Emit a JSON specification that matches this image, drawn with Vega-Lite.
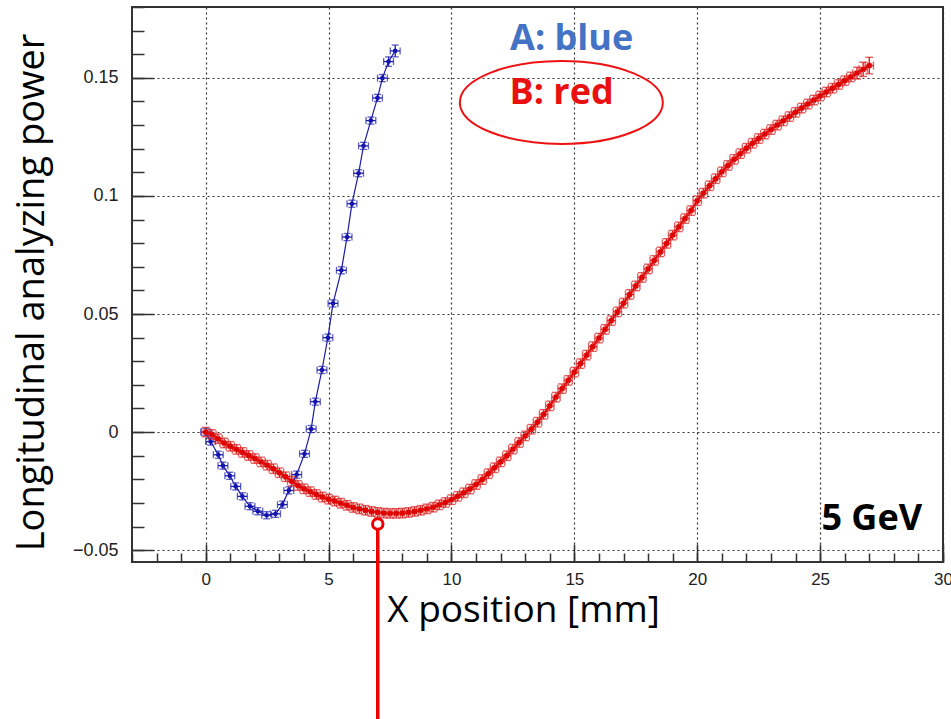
{
  "$schema": "https://vega.github.io/schema/vega-lite/v6.json",
  "width": 811,
  "height": 555,
  "autosize": "none",
  "padding": {"left": 132, "top": 7, "right": 8, "bottom": 157},
  "background": "white",
  "config": {"view": {"stroke": "#333", "strokeWidth": 2}, "font": "Liberation Sans"},
  "datasets": {
    "A": [
      {"x": 0, "y": 0, "ex": 0.2, "ey": 0.0015},
      {"x": 0.2, "y": -0.004, "ex": 0.2, "ey": 0.0015},
      {"x": 0.51, "y": -0.0096, "ex": 0.2, "ey": 0.0015},
      {"x": 0.7, "y": -0.0142, "ex": 0.2, "ey": 0.0015},
      {"x": 0.98, "y": -0.0185, "ex": 0.2, "ey": 0.0015},
      {"x": 1.22, "y": -0.023, "ex": 0.2, "ey": 0.0015},
      {"x": 1.49, "y": -0.0272, "ex": 0.2, "ey": 0.0015},
      {"x": 1.8, "y": -0.0314, "ex": 0.2, "ey": 0.0015},
      {"x": 2.12, "y": -0.0335, "ex": 0.2, "ey": 0.0015},
      {"x": 2.48, "y": -0.0352, "ex": 0.2, "ey": 0.0015},
      {"x": 2.84, "y": -0.0346, "ex": 0.2, "ey": 0.0015},
      {"x": 3.12, "y": -0.0307, "ex": 0.2, "ey": 0.0015},
      {"x": 3.38, "y": -0.0247, "ex": 0.2, "ey": 0.0015},
      {"x": 3.7, "y": -0.018, "ex": 0.2, "ey": 0.0015},
      {"x": 4.02, "y": -0.0092, "ex": 0.2, "ey": 0.0015},
      {"x": 4.29, "y": 0.0013, "ex": 0.2, "ey": 0.0015},
      {"x": 4.46, "y": 0.0129, "ex": 0.2, "ey": 0.0015},
      {"x": 4.73, "y": 0.0263, "ex": 0.2, "ey": 0.0015},
      {"x": 4.97, "y": 0.04, "ex": 0.2, "ey": 0.0015},
      {"x": 5.18, "y": 0.0545, "ex": 0.2, "ey": 0.0015},
      {"x": 5.52, "y": 0.0685, "ex": 0.2, "ey": 0.0015},
      {"x": 5.75, "y": 0.0826, "ex": 0.2, "ey": 0.0015},
      {"x": 5.95, "y": 0.0967, "ex": 0.2, "ey": 0.0015},
      {"x": 6.22, "y": 0.1096, "ex": 0.2, "ey": 0.0015},
      {"x": 6.42, "y": 0.1212, "ex": 0.2, "ey": 0.0015},
      {"x": 6.72, "y": 0.1319, "ex": 0.2, "ey": 0.0015},
      {"x": 6.99, "y": 0.1415, "ex": 0.2, "ey": 0.0015},
      {"x": 7.19, "y": 0.1499, "ex": 0.2, "ey": 0.0015},
      {"x": 7.44, "y": 0.1569, "ex": 0.2, "ey": 0.002},
      {"x": 7.71, "y": 0.1614, "ex": 0.2, "ey": 0.0025}
    ],
    "B": [
      {"x": 0.0, "y": 0.0, "ex": 0.17, "ey": 0.002}, {"x": 0.25, "y": -0.001, "ex": 0.17, "ey": 0.002}, {"x": 0.5, "y": -0.0028, "ex": 0.17, "ey": 0.002}, {"x": 0.75, "y": -0.0046, "ex": 0.17, "ey": 0.002},
      {"x": 1.0, "y": -0.006, "ex": 0.17, "ey": 0.002}, {"x": 1.25, "y": -0.0073, "ex": 0.17, "ey": 0.002}, {"x": 1.5, "y": -0.0086, "ex": 0.17, "ey": 0.002}, {"x": 1.75, "y": -0.0099, "ex": 0.17, "ey": 0.002},
      {"x": 2.0, "y": -0.0112, "ex": 0.17, "ey": 0.002}, {"x": 2.25, "y": -0.0126, "ex": 0.17, "ey": 0.002}, {"x": 2.5, "y": -0.014, "ex": 0.17, "ey": 0.002}, {"x": 2.75, "y": -0.0155, "ex": 0.17, "ey": 0.002},
      {"x": 3.0, "y": -0.0172, "ex": 0.17, "ey": 0.002}, {"x": 3.25, "y": -0.0189, "ex": 0.17, "ey": 0.002}, {"x": 3.5, "y": -0.0208, "ex": 0.17, "ey": 0.002}, {"x": 3.75, "y": -0.0226, "ex": 0.17, "ey": 0.002},
      {"x": 4.0, "y": -0.024, "ex": 0.17, "ey": 0.002}, {"x": 4.25, "y": -0.0252, "ex": 0.17, "ey": 0.002}, {"x": 4.5, "y": -0.0264, "ex": 0.17, "ey": 0.002}, {"x": 4.75, "y": -0.0275, "ex": 0.17, "ey": 0.002},
      {"x": 5.0, "y": -0.0284, "ex": 0.17, "ey": 0.002}, {"x": 5.25, "y": -0.0292, "ex": 0.17, "ey": 0.002}, {"x": 5.5, "y": -0.0301, "ex": 0.17, "ey": 0.002}, {"x": 5.75, "y": -0.031, "ex": 0.17, "ey": 0.002},
      {"x": 6.0, "y": -0.0319, "ex": 0.17, "ey": 0.002}, {"x": 6.25, "y": -0.0325, "ex": 0.17, "ey": 0.002}, {"x": 6.5, "y": -0.0331, "ex": 0.17, "ey": 0.002}, {"x": 6.75, "y": -0.0336, "ex": 0.17, "ey": 0.002},
      {"x": 7.0, "y": -0.034, "ex": 0.17, "ey": 0.002}, {"x": 7.25, "y": -0.0343, "ex": 0.17, "ey": 0.002}, {"x": 7.5, "y": -0.0344, "ex": 0.17, "ey": 0.002}, {"x": 7.75, "y": -0.0344, "ex": 0.17, "ey": 0.002},
      {"x": 8.0, "y": -0.0343, "ex": 0.17, "ey": 0.002}, {"x": 8.25, "y": -0.034, "ex": 0.17, "ey": 0.002}, {"x": 8.5, "y": -0.0336, "ex": 0.17, "ey": 0.002}, {"x": 8.75, "y": -0.0331, "ex": 0.17, "ey": 0.002},
      {"x": 9.0, "y": -0.0325, "ex": 0.17, "ey": 0.002}, {"x": 9.25, "y": -0.0318, "ex": 0.17, "ey": 0.002}, {"x": 9.5, "y": -0.0308, "ex": 0.17, "ey": 0.002}, {"x": 9.75, "y": -0.0298, "ex": 0.17, "ey": 0.002},
      {"x": 10.0, "y": -0.0286, "ex": 0.17, "ey": 0.002}, {"x": 10.25, "y": -0.0272, "ex": 0.17, "ey": 0.002}, {"x": 10.5, "y": -0.0257, "ex": 0.17, "ey": 0.002}, {"x": 10.75, "y": -0.0241, "ex": 0.17, "ey": 0.002},
      {"x": 11.0, "y": -0.0222, "ex": 0.17, "ey": 0.002}, {"x": 11.25, "y": -0.0201, "ex": 0.17, "ey": 0.002}, {"x": 11.5, "y": -0.0176, "ex": 0.17, "ey": 0.002}, {"x": 11.75, "y": -0.0151, "ex": 0.17, "ey": 0.002},
      {"x": 12.0, "y": -0.0126, "ex": 0.17, "ey": 0.002}, {"x": 12.25, "y": -0.01, "ex": 0.17, "ey": 0.002}, {"x": 12.5, "y": -0.0072, "ex": 0.17, "ey": 0.002}, {"x": 12.75, "y": -0.0044, "ex": 0.17, "ey": 0.002},
      {"x": 13.0, "y": -0.0016, "ex": 0.17, "ey": 0.002}, {"x": 13.25, "y": 0.0012, "ex": 0.17, "ey": 0.002}, {"x": 13.5, "y": 0.0042, "ex": 0.17, "ey": 0.002}, {"x": 13.75, "y": 0.0075, "ex": 0.17, "ey": 0.002},
      {"x": 14.0, "y": 0.0111, "ex": 0.17, "ey": 0.002}, {"x": 14.25, "y": 0.0148, "ex": 0.17, "ey": 0.002}, {"x": 14.5, "y": 0.0184, "ex": 0.17, "ey": 0.002}, {"x": 14.75, "y": 0.0219, "ex": 0.17, "ey": 0.002},
      {"x": 15.0, "y": 0.0254, "ex": 0.17, "ey": 0.002}, {"x": 15.25, "y": 0.029, "ex": 0.17, "ey": 0.002}, {"x": 15.5, "y": 0.0326, "ex": 0.17, "ey": 0.002}, {"x": 15.75, "y": 0.0362, "ex": 0.17, "ey": 0.002},
      {"x": 16.0, "y": 0.0398, "ex": 0.17, "ey": 0.002}, {"x": 16.25, "y": 0.0435, "ex": 0.17, "ey": 0.002}, {"x": 16.5, "y": 0.0472, "ex": 0.17, "ey": 0.002}, {"x": 16.75, "y": 0.0509, "ex": 0.17, "ey": 0.002},
      {"x": 17.0, "y": 0.0546, "ex": 0.17, "ey": 0.002}, {"x": 17.25, "y": 0.0583, "ex": 0.17, "ey": 0.002}, {"x": 17.5, "y": 0.0619, "ex": 0.17, "ey": 0.002}, {"x": 17.75, "y": 0.0655, "ex": 0.17, "ey": 0.002},
      {"x": 18.0, "y": 0.0691, "ex": 0.17, "ey": 0.002}, {"x": 18.25, "y": 0.0727, "ex": 0.17, "ey": 0.002}, {"x": 18.5, "y": 0.0763, "ex": 0.17, "ey": 0.002}, {"x": 18.75, "y": 0.0799, "ex": 0.17, "ey": 0.002},
      {"x": 19.0, "y": 0.0834, "ex": 0.17, "ey": 0.002}, {"x": 19.25, "y": 0.0869, "ex": 0.17, "ey": 0.002}, {"x": 19.5, "y": 0.0904, "ex": 0.17, "ey": 0.002}, {"x": 19.75, "y": 0.0938, "ex": 0.17, "ey": 0.002},
      {"x": 20.0, "y": 0.098, "ex": 0.17, "ey": 0.002}, {"x": 20.25, "y": 0.1012, "ex": 0.17, "ey": 0.002}, {"x": 20.5, "y": 0.1043, "ex": 0.17, "ey": 0.002}, {"x": 20.75, "y": 0.1073, "ex": 0.17, "ey": 0.002},
      {"x": 21.0, "y": 0.1102, "ex": 0.17, "ey": 0.002}, {"x": 21.25, "y": 0.1129, "ex": 0.17, "ey": 0.002}, {"x": 21.5, "y": 0.1155, "ex": 0.17, "ey": 0.002}, {"x": 21.75, "y": 0.1179, "ex": 0.17, "ey": 0.002},
      {"x": 22.0, "y": 0.1202, "ex": 0.17, "ey": 0.002}, {"x": 22.25, "y": 0.1223, "ex": 0.17, "ey": 0.002}, {"x": 22.5, "y": 0.1243, "ex": 0.17, "ey": 0.002}, {"x": 22.75, "y": 0.1262, "ex": 0.17, "ey": 0.002},
      {"x": 23.0, "y": 0.1281, "ex": 0.17, "ey": 0.002}, {"x": 23.25, "y": 0.13, "ex": 0.17, "ey": 0.002}, {"x": 23.5, "y": 0.1318, "ex": 0.17, "ey": 0.002}, {"x": 23.75, "y": 0.1336, "ex": 0.17, "ey": 0.002},
      {"x": 24.0, "y": 0.1354, "ex": 0.17, "ey": 0.002}, {"x": 24.25, "y": 0.1372, "ex": 0.17, "ey": 0.002}, {"x": 24.5, "y": 0.1389, "ex": 0.17, "ey": 0.002}, {"x": 24.75, "y": 0.1406, "ex": 0.17, "ey": 0.002},
      {"x": 25.0, "y": 0.1423, "ex": 0.17, "ey": 0.002}, {"x": 25.25, "y": 0.144, "ex": 0.17, "ey": 0.002}, {"x": 25.5, "y": 0.1456, "ex": 0.17, "ey": 0.002}, {"x": 25.75, "y": 0.1472, "ex": 0.17, "ey": 0.002},
      {"x": 26.0, "y": 0.1488, "ex": 0.17, "ey": 0.002}, {"x": 26.25, "y": 0.1504, "ex": 0.17, "ey": 0.002}, {"x": 26.5, "y": 0.152, "ex": 0.17, "ey": 0.0025}, {"x": 26.75, "y": 0.1536, "ex": 0.17, "ey": 0.003},
      {"x": 27.0, "y": 0.1552, "ex": 0.17, "ey": 0.0035}
    ],
    "labelA": [{"x": 14.89, "y": 0.1665, "label": "A: blue"}],
    "labelB": [{"x": 14.48, "y": 0.1437, "label": "B: red"}],
    "ellipse": [{"x": 14.47, "y": 0.1396}],
    "energy": [{"x": 27.1, "y": -0.037, "label": "5 GeV"}],
    "pin": [{"x": 7.0, "y": -0.0389, "yEnd": -0.13}]
  },
  "layer": [
    {
      "data": {"name": "A"},
      "mark": {"type": "point", "opacity": 0},
      "encoding": {
        "x": {
          "field": "x", "type": "quantitative",
          "scale": {"domain": [-3, 30], "nice": false, "zero": false},
          "axis": {
            "orient": "bottom", "values": [0, 5, 10, 15, 20, 25, 30],
            "grid": true, "gridDash": [2, 3], "gridColor": "#333", "gridOpacity": 1, "gridWidth": 1.2,
            "domain": false, "tickSize": -18, "tickColor": "#333", "tickWidth": 1.5,
            "labelPadding": 27, "labelFontSize": 17, "labelColor": "#222", "labelFont": "Liberation Sans",
            "labelFlush": false, "labelOverlap": false,
            "title": "X position [mm]", "titleFont": "Open Sans", "titleFontSize": 37,
            "titleFontWeight": "normal", "titleColor": "#000",
            "titleX": 391, "titleY": 59, "titleBaseline": "alphabetic", "titleAlign": "center"
          }
        },
        "y": {
          "field": "y", "type": "quantitative",
          "scale": {"domain": [-0.055, 0.18], "nice": false, "zero": false},
          "axis": {
            "orient": "left", "values": [-0.05, 0, 0.05, 0.1, 0.15], "format": "~g",
            "grid": true, "gridDash": [2, 3], "gridColor": "#333", "gridOpacity": 1, "gridWidth": 1.2,
            "domain": false, "tickSize": -22, "tickColor": "#333", "tickWidth": 1.5,
            "labelPadding": 36, "labelFontSize": 18, "labelColor": "#222", "labelFont": "Liberation Sans",
            "labelOverlap": false, "labelFlush": false,
            "title": "Longitudinal analyzing power", "titleFont": "Open Sans", "titleFontSize": 38,
            "titleFontWeight": "normal", "titleColor": "#000", "titleAngle": 270,
            "titleX": -89, "titleY": 285, "titleBaseline": "alphabetic", "titleAlign": "center"
          }
        }
      }
    },
    {
      "data": {"name": "A"},
      "mark": {"type": "point", "opacity": 0},
      "encoding": {
        "x": {
          "field": "x", "type": "quantitative",
          "axis": {
            "orient": "bottom", "values": [-3, -2, -1, 0, 1, 2, 3, 4, 5, 6, 7, 8, 9, 10, 11, 12, 13, 14, 15, 16, 17, 18, 19, 20, 21, 22, 23, 24, 25, 26, 27, 28, 29, 30],
            "labels": false, "grid": false, "domain": false, "tickSize": -9, "tickColor": "#333", "tickWidth": 1.5, "title": null
          }
        },
        "y": {
          "field": "y", "type": "quantitative",
          "axis": {
            "orient": "left", "values": [-0.05, -0.04, -0.03, -0.02, -0.01, 0, 0.01, 0.02, 0.03, 0.04, 0.05, 0.06, 0.07, 0.08, 0.09, 0.1, 0.11, 0.12, 0.13, 0.14, 0.15, 0.16, 0.17, 0.18],
            "labels": false, "grid": false, "domain": false, "tickSize": -12, "tickColor": "#333", "tickWidth": 1.5, "title": null
          }
        }
      }
    },
    {
      "data": {"name": "A"},
      "mark": {"type": "line", "color": "#1c1ca8", "strokeWidth": 1.2},
      "encoding": {
        "x": {"field": "x", "type": "quantitative", "axis": null},
        "y": {"field": "y", "type": "quantitative", "axis": null}
      }
    },
    {
      "data": {"name": "A"},
      "mark": {"type": "errorbar", "ticks": {"size": 7}, "color": "#1c1ca8", "thickness": 1.3},
      "encoding": {
        "x": {"field": "x", "type": "quantitative", "axis": null},
        "xError": {"field": "ex"},
        "y": {"field": "y", "type": "quantitative", "axis": null}
      }
    },
    {
      "data": {"name": "A"},
      "mark": {"type": "errorbar", "ticks": {"size": 7}, "color": "#1c1ca8", "thickness": 1.3},
      "encoding": {
        "y": {"field": "y", "type": "quantitative", "axis": null},
        "yError": {"field": "ey"},
        "x": {"field": "x", "type": "quantitative", "axis": null}
      }
    },
    {
      "data": {"name": "A"},
      "mark": {"type": "point", "filled": true, "color": "#1414b0", "size": 22, "opacity": 1},
      "encoding": {
        "x": {"field": "x", "type": "quantitative", "axis": null},
        "y": {"field": "y", "type": "quantitative", "axis": null}
      }
    },
    {
      "data": {"name": "B"},
      "mark": {"type": "line", "color": "#e01010", "strokeWidth": 2.5},
      "encoding": {
        "x": {"field": "x", "type": "quantitative", "axis": null},
        "y": {"field": "y", "type": "quantitative", "axis": null}
      }
    },
    {
      "data": {"name": "B"},
      "mark": {"type": "errorbar", "ticks": {"size": 8}, "color": "#d82020", "thickness": 1.4},
      "encoding": {
        "x": {"field": "x", "type": "quantitative", "axis": null},
        "xError": {"field": "ex"},
        "y": {"field": "y", "type": "quantitative", "axis": null}
      }
    },
    {
      "data": {"name": "B"},
      "mark": {"type": "errorbar", "ticks": {"size": 8}, "color": "#d82020", "thickness": 1.4},
      "encoding": {
        "y": {"field": "y", "type": "quantitative", "axis": null},
        "yError": {"field": "ey"},
        "x": {"field": "x", "type": "quantitative", "axis": null}
      }
    },
    {
      "data": {"name": "B"},
      "mark": {"type": "point", "shape": "cross", "angle": 45, "filled": true, "color": "#e00000", "size": 36, "opacity": 1},
      "encoding": {
        "x": {"field": "x", "type": "quantitative", "axis": null},
        "y": {"field": "y", "type": "quantitative", "axis": null}
      }
    },
    {
      "data": {"name": "labelA"},
      "mark": {"type": "text", "font": "Open Sans", "fontWeight": "bold", "fontSize": 36, "color": "#4472C4", "align": "center", "baseline": "middle"},
      "encoding": {
        "x": {"field": "x", "type": "quantitative", "axis": null},
        "y": {"field": "y", "type": "quantitative", "axis": null},
        "text": {"field": "label"}
      }
    },
    {
      "data": {"name": "labelB"},
      "mark": {"type": "text", "font": "Open Sans", "fontWeight": "bold", "fontSize": 36, "color": "#e81010", "align": "center", "baseline": "middle"},
      "encoding": {
        "x": {"field": "x", "type": "quantitative", "axis": null},
        "y": {"field": "y", "type": "quantitative", "axis": null},
        "text": {"field": "label"}
      }
    },
    {
      "data": {"name": "ellipse"},
      "mark": {"type": "point", "shape": "M-1,0A1,0.409,0,1,0,1,0A1,0.409,0,1,0,-1,0Z", "filled": false, "stroke": "#ee1111", "strokeWidth": 2, "size": 41209, "opacity": 1},
      "encoding": {
        "x": {"field": "x", "type": "quantitative", "axis": null},
        "y": {"field": "y", "type": "quantitative", "axis": null}
      }
    },
    {
      "data": {"name": "energy"},
      "mark": {"type": "text", "font": "Open Sans", "fontWeight": "bold", "fontSize": 36, "color": "#000", "align": "center", "baseline": "middle"},
      "encoding": {
        "x": {"field": "x", "type": "quantitative", "axis": null},
        "y": {"field": "y", "type": "quantitative", "axis": null},
        "text": {"field": "label"}
      }
    },
    {
      "data": {"name": "pin"},
      "mark": {"type": "rule", "color": "#ee0000", "strokeWidth": 3.5, "clip": false},
      "encoding": {
        "x": {"field": "x", "type": "quantitative", "axis": null},
        "y": {"field": "y", "type": "quantitative", "axis": null},
        "y2": {"field": "yEnd"}
      }
    },
    {
      "data": {"name": "pin"},
      "mark": {"type": "point", "shape": "circle", "filled": true, "fill": "white", "stroke": "#ee0000", "strokeWidth": 3, "size": 110, "opacity": 1, "clip": false},
      "encoding": {
        "x": {"field": "x", "type": "quantitative", "axis": null},
        "y": {"field": "y", "type": "quantitative", "axis": null}
      }
    }
  ],
  "resolve": {"axis": {"x": "independent", "y": "independent"}}
}
